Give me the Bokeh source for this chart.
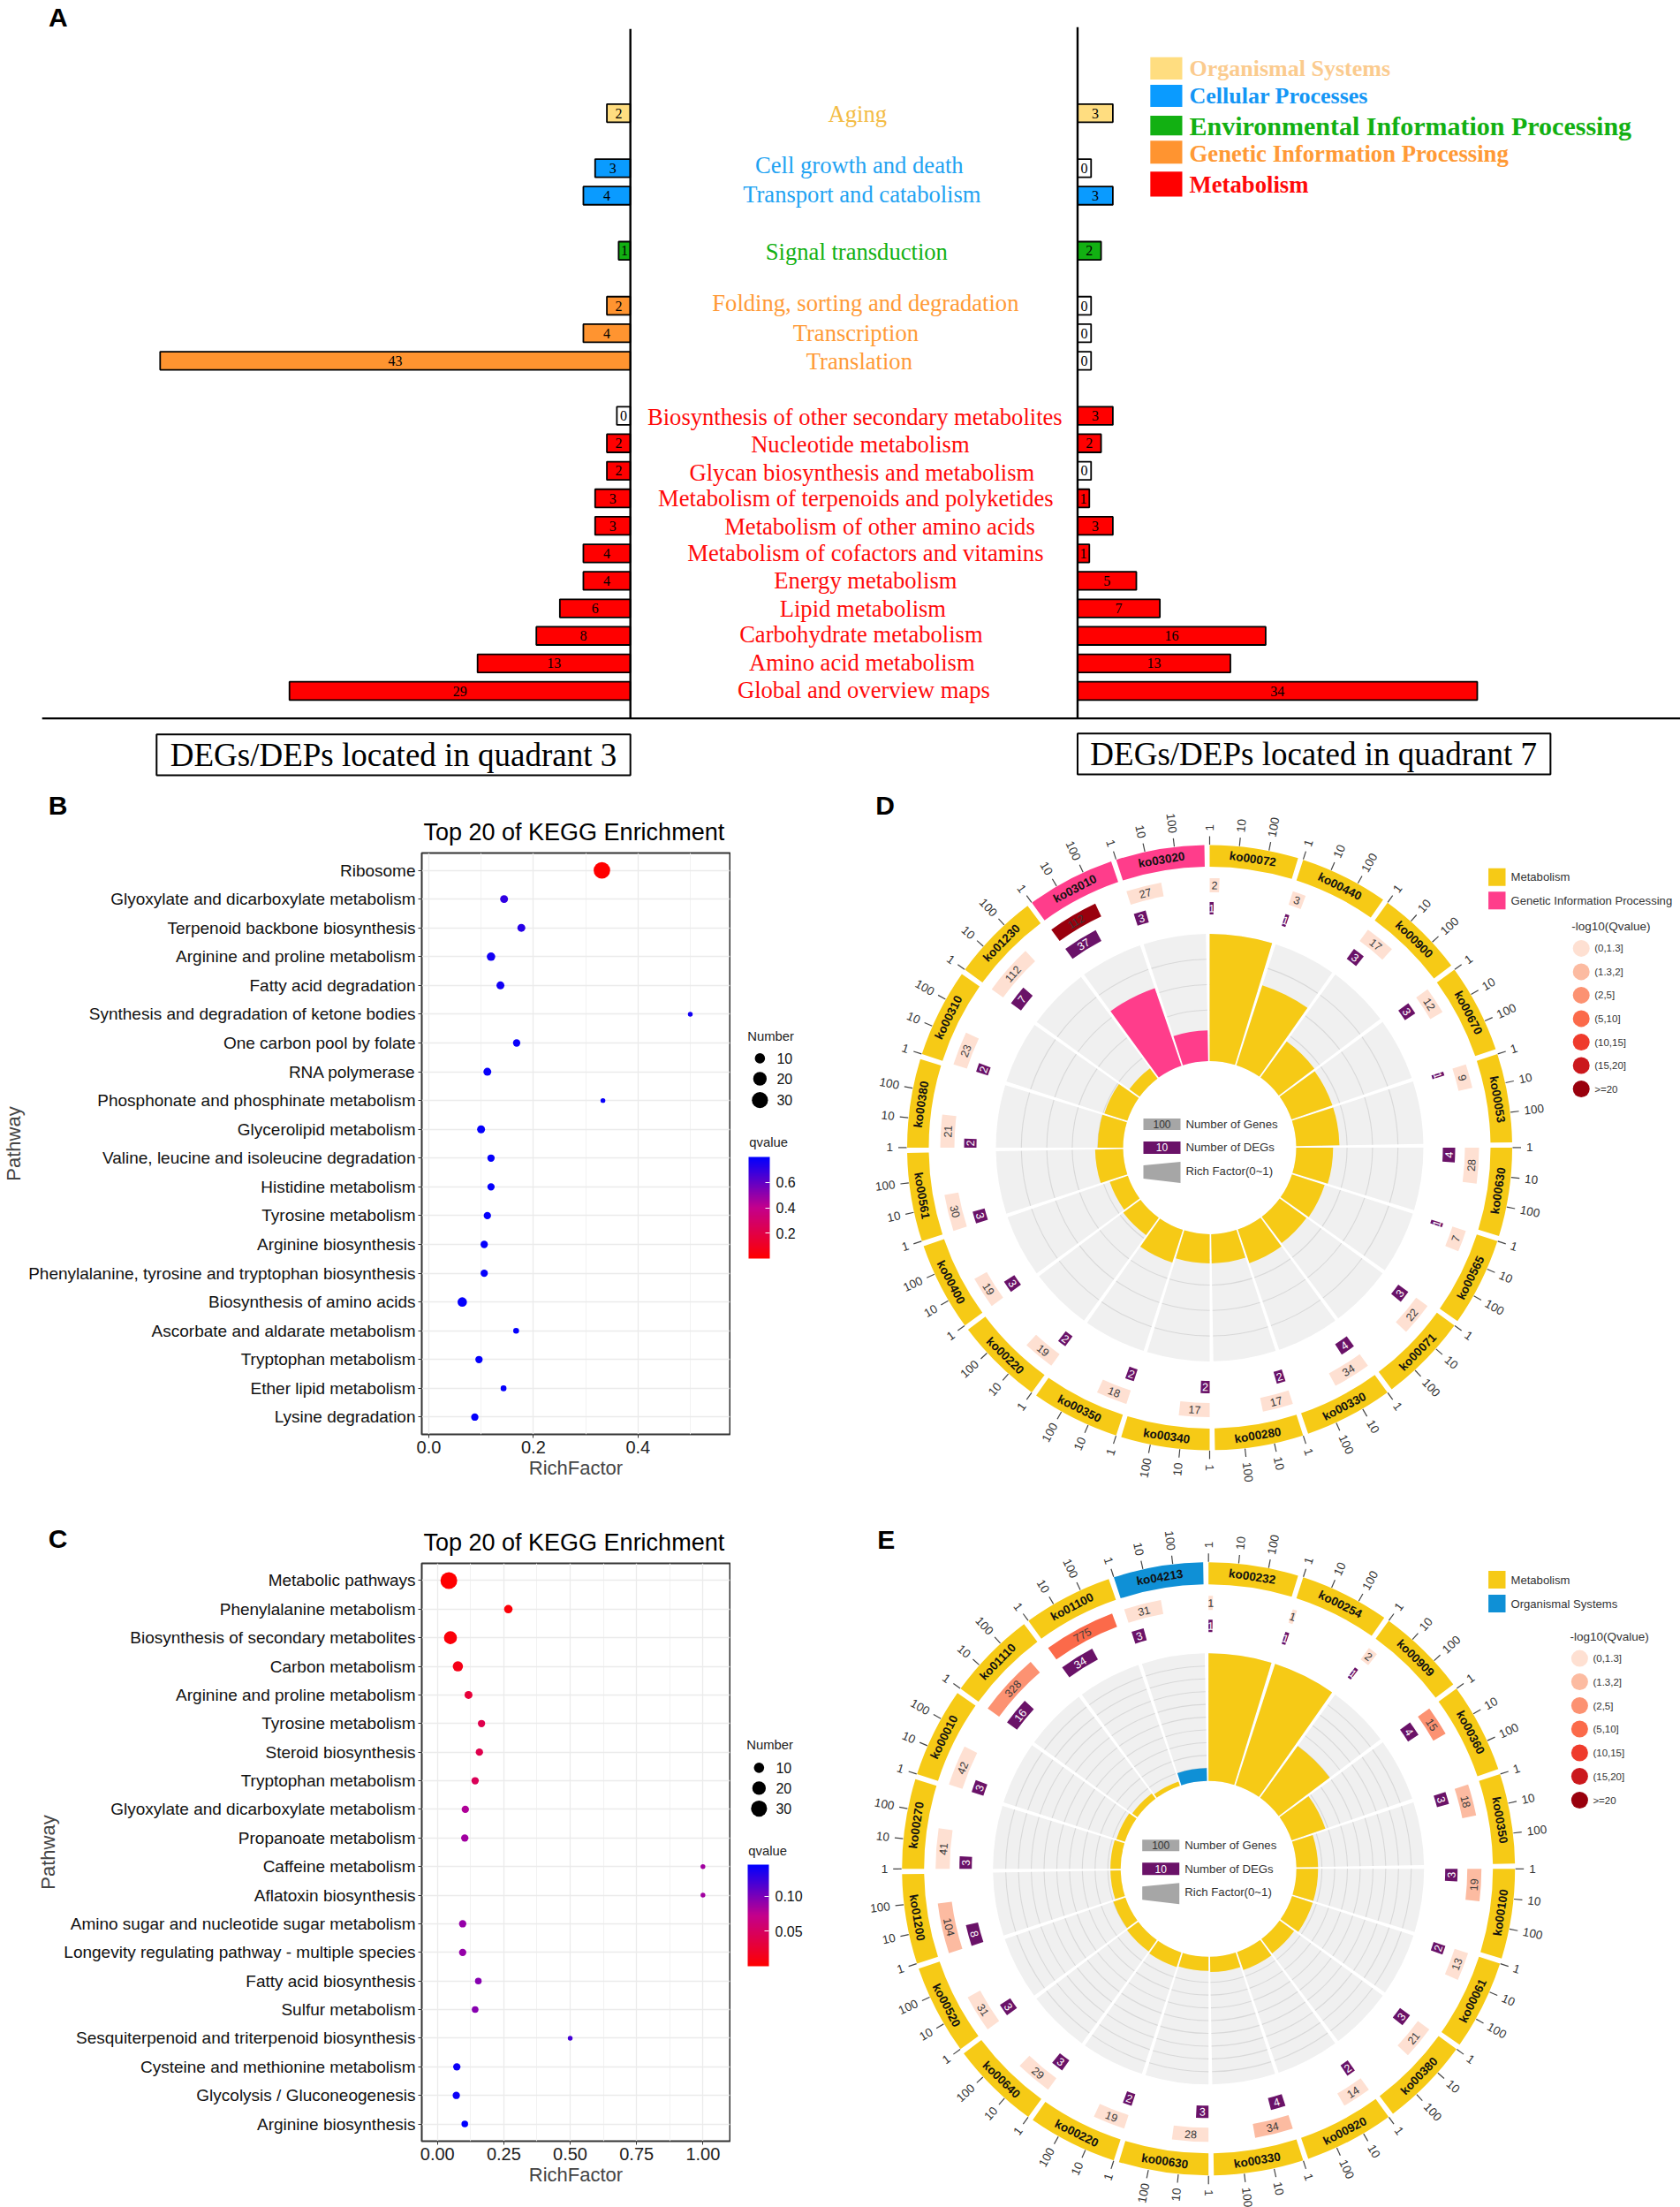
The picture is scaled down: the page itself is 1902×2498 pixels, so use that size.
import numpy as np
from bokeh.plotting import figure
from bokeh.layouts import column, row
from bokeh.models import (ColumnDataSource, Range1d, FactorRange, FixedTicker,
                          LinearColorMapper, ColorBar)
from bokeh.core.properties import value
from bokeh.transform import transform
from bokeh.embed import file_html
from bokeh.resources import INLINE

# ---------------- Panel A data ----------------
groups_a = ["Organismal Systems", "Cellular Processes", "Environmental Information Processing",
            "Genetic Information Processing", "Metabolism"]
cats_a = [["Aging"],
          ["Cell growth and death", "Transport and catabolism"],
          ["Signal transduction"],
          ["Folding, sorting and degradation", "Transcription", "Translation"],
          ["Biosynthesis of other secondary metabolites", "Nucleotide metabolism",
           "Glycan biosynthesis and metabolism", "Metabolism of terpenoids and polyketides",
           "Metabolism of other amino acids", "Metabolism of cofactors and vitamins",
           "Energy metabolism", "Lipid metabolism", "Carbohydrate metabolism",
           "Amino acid metabolism", "Global and overview maps"]]
q3_labels = [2, 3, 4, 1, 2, 4, 43, 0, 2, 2, 3, 3, 4, 4, 6, 8, 13, 29]
q3_bars = [2, 3, 4, 1, 2, 4, 40, 0, 2, 2, 3, 3, 4, 4, 6, 8, 13, 29]
q7_labels = [3, 0, 3, 2, 0, 0, 0, 3, 2, 0, 1, 3, 1, 5, 7, 16, 13, 34]
q7_bars = [3, 0, 3, 2, 0, 0, 0, 3, 2, 0, 1, 3, 1, 5, 7, 16, 13, 34]
bar_cols = ["#FFDD80", "#0A9BFF", "#12B012", "#FF9430", "#FF0000"]
txt_cols = ["#F3BC45", "#1FA3F2", "#12B012", "#FF9A36", "#FF0A0A"]
legend_txt = ["#FBCB8E", "#1496F5", "#12B012", "#FF9A36", "#FF0A0A"]

# ---------------- Panel B data ----------------
path_b = ["Ribosome", "Glyoxylate and dicarboxylate metabolism", "Terpenoid backbone biosynthesis",
          "Arginine and proline metabolism", "Fatty acid degradation",
          "Synthesis and degradation of ketone bodies", "One carbon pool by folate", "RNA polymerase",
          "Phosphonate and phosphinate metabolism", "Glycerolipid metabolism",
          "Valine, leucine and isoleucine degradation", "Histidine metabolism", "Tyrosine metabolism",
          "Arginine biosynthesis", "Phenylalanine, tyrosine and tryptophan biosynthesis",
          "Biosynthesis of amino acids", "Ascorbate and aldarate metabolism", "Tryptophan metabolism",
          "Ether lipid metabolism", "Lysine degradation"]
rich_b = [.331, .144, .177, .119, .137, .500, .168, .112, .333, .100, .119, .119, .112, .106, .106, .064, .167, .096, .143, .088]
num_b = [32, 5, 5, 6, 5, 1, 4, 5, 1, 5, 4, 4, 4, 4, 4, 8, 2, 4, 2, 4]
q_b = [.002, .70, .72, .76, .76, .76, .78, .78, .78, .79, .79, .79, .79, .79, .79, .79, .79, .79, .79, .79]

# ---------------- Panel C data ----------------
path_c = ["Metabolic pathways", "Phenylalanine metabolism", "Biosynthesis of secondary metabolites",
          "Carbon metabolism", "Arginine and proline metabolism", "Tyrosine metabolism",
          "Steroid biosynthesis", "Tryptophan metabolism", "Glyoxylate and dicarboxylate metabolism",
          "Propanoate metabolism", "Caffeine metabolism", "Aflatoxin biosynthesis",
          "Amino sugar and nucleotide sugar metabolism", "Longevity regulating pathway - multiple species",
          "Fatty acid biosynthesis", "Sulfur metabolism", "Sesquiterpenoid and triterpenoid biosynthesis",
          "Cysteine and methionine metabolism", "Glycolysis / Gluconeogenesis", "Arginine biosynthesis"]
rich_c = [.043, .267, .049, .077, .117, .166, .158, .142, .105, .103, 1.0, 1.0, .095, .095, .154, .142, .50, .073, .071, .103]
num_c = [33, 6, 18, 10, 5, 4, 4, 4, 4, 4, 1, 1, 4, 4, 3, 3, 1, 4, 4, 3]
q_c = [.001, .004, .005, .012, .03, .04, .04, .045, .08, .085, .085, .085, .09, .09, .095, .095, .12, .14, .14, .145]

# ---------------- Panels D and E data ----------------
ko_d = ["ko00072", "ko00440", "ko00900", "ko00670", "ko00053", "ko00630", "ko00565", "ko00071", "ko00330", "ko00280",
        "ko00340", "ko00350", "ko00220", "ko00400", "ko00561", "ko00380", "ko00310", "ko01230", "ko03010", "ko03020"]
genes_d = [2, 3, 17, 12, 9, 28, 7, 22, 34, 17, 17, 18, 19, 19, 30, 21, 23, 112, 112, 27]
degs_d = [1, 1, 3, 3, 1, 4, 1, 3, 4, 2, 2, 2, 2, 3, 3, 2, 2, 7, 37, 3]
rich_d = [1.0, .66, .35, .34, .34, .29, .27, .26, .28, .23, .23, .27, .17, .15, .22, .20, .19, .10, .645, .24]
qclass_d = [0]*18 + [6, 0]
cat_d = [0]*18 + [1, 1]
catnames_d = ["Metabolism", "Genetic Information Processing"]
catcols_d = ["#F6CA16", "#FF3D8B"]

ko_e = ["ko00232", "ko00254", "ko00909", "ko00360", "ko00350", "ko00100", "ko00061", "ko00380", "ko00920", "ko00330",
        "ko00630", "ko00220", "ko00640", "ko00520", "ko01200", "ko00270", "ko00010", "ko01110", "ko01100", "ko04213"]
genes_e = [1, 1, 2, 15, 18, 19, 13, 21, 14, 34, 28, 19, 29, 31, 104, 41, 42, 328, 775, 31]
degs_e = [1, 1, 1, 4, 3, 3, 2, 3, 2, 4, 3, 2, 3, 3, 8, 3, 3, 16, 34, 3]
rich_e = [1.0, 1.0, .5, .28, .17, .17, .17, .14, .15, .12, .11, .12, .11, .10, .08, .08, .07, .05, .035, .10]
qclass_e = [0, 0, 0, 2, 1, 1, 0, 0, 0, 1, 0, 0, 0, 0, 1, 0, 0, 2, 3, 0]
cat_e = [0]*19 + [1]
catnames_e = ["Metabolism", "Organismal Systems"]
catcols_e = ["#F6CA16", "#0F90D6"]

q_classes = ["(0,1.3]", "(1.3,2]", "(2,5]", "(5,10]", "(10,15]", "(15,20]", ">=20"]
q_reds = ["#FEE0D2", "#FCBBA1", "#FC9272", "#FB6A4A", "#EF3B2C", "#CB181D", "#99000D"]
axis_ticks = [1, 10, 100]

# ---------------- helpers ----------------
SANS = "Liberation Sans"
SERIF = "Liberation Serif"
SC = 1.0045


def txt(p, x, y, t, size, font=SANS, color="black", align="left", base="middle", style="normal", angle=0.0, **kw):
    p.text(x=x if isinstance(x, (list, np.ndarray)) else [x],
           y=y if isinstance(y, (list, np.ndarray)) else [y],
           text=t if isinstance(t, list) else [t],
           text_font=value(font), text_font_size=f"{size}px", text_color=color,
           text_align=align, text_baseline=base, text_font_style=style,
           angle=angle, angle_units="rad", **kw)


def blank(width, height, xr, yr):
    p = figure(width=width, height=height, x_range=xr, y_range=yr, output_backend="svg",
               toolbar_location=None, min_border=0, outline_line_color=None, frame_align=False)
    p.axis.visible = False
    p.grid.visible = False
    return p


# ---------------- Panel A ----------------
X_A0, X_A1, Y_A0, Y_A1 = 0, 1902 / SC, 880 / SC, 0
pa = blank(1902, 880, Range1d(X_A0, X_A1), Range1d(Y_A0, Y_A1))
UNIT = 13.25
X0L, X0R = 710, 1214
Y0, STEP = 778, 31
pa.extra_x_ranges = {"q3": Range1d((X0L - X_A0) / UNIT, (X0L - X_A1) / UNIT),
                     "q7": Range1d((X_A0 - X0R) / UNIT, (X_A1 - X0R) / UNIT)}
pa.extra_y_ranges = {"cat": Range1d((Y0 - Y_A0) / STEP, (Y0 - Y_A1) / STEP)}

names, ypos, gidx = [], [], []
idx = 21
for g, cs in enumerate(cats_a):
    for c in cs:
        names.append(c)
        ypos.append(idx)
        gidx.append(g)
        idx -= 1
    idx -= 1

for bars, labels, xn in ((q3_bars, q3_labels, "q3"), (q7_bars, q7_labels, "q7")):
    b = np.array(bars, float)
    disp = np.where(b == 0, 1.15, b)
    cols = ["white" if v == 0 else bar_cols[g] for v, g in zip(bars, gidx)]
    src = ColumnDataSource(dict(y=ypos, r=disp, c=cols, m=disp / 2, t=[str(v) for v in labels]))
    pa.hbar(y="y", left=0, right="r", height=.66, fill_color="c", line_color="black", line_width=1.8,
            source=src, x_range_name=xn, y_range_name="cat")
    pa.text(x="m", y="y", text="t", source=src, x_range_name=xn, y_range_name="cat",
            text_font=value(SERIF), text_font_size="16px", text_align="center", text_baseline="middle",
            text_color="black")

# middle labels (layout positions in page pixels)
lab_cx = [966, 968, 971, 965, 975, 964, 968, 963, 969, 971, 964, 991, 975, 975, 972, 970, 971, 973]
lab_cy = [128, 186, 219, 283, 341, 375, 407, 469, 500, 532, 561, 593, 623, 654, 685, 714, 746, 777]
txt(pa, lab_cx, lab_cy, names, 26.6, font=SERIF, align="center", color=[txt_cols[g] for g in gidx])

# axes lines and boxes
pa.segment(x0=[X0L, X0R, 47], y0=[32, 30, 809], x1=[X0L, X0R, X_A1], y1=[809, 809, 809],
           line_color="black", line_width=2.4)
pa.quad(left=[176, 1214], right=[710, 1747], top=[827, 826], bottom=[873, 872],
        fill_color="white", line_color="black", line_width=2)
txt(pa, [443, 1480], [850, 849],
    ["DEGs/DEPs located in quadrant 3", "DEGs/DEPs located in quadrant 7"], 37, font=SERIF, align="center")

# legend
leg_top = [64, 95, 130, 158, 193]
leg_bot = [89, 120, 152, 184, 221]
leg_y = [77, 108, 141, 173, 208]
leg_sz = [26, 26, 30, 26.7, 26.7]
pa.quad(left=1296, right=1332, top=leg_top, bottom=leg_bot, fill_color=bar_cols, line_color=None)
for n, yy, s, c in zip(groups_a, leg_y, leg_sz, legend_txt):
    txt(pa, 1340, yy, n, s, font=SERIF, color=c, style="bold")
txt(pa, 65, 19, "A", 30, style="bold", align="center")

# ---------------- Panels B, C ----------------
stops = [(255, 0, 0), (196, 0, 140), (0, 0, 255)]
palette = []
for i in range(256):
    t = i / 255 * 2
    a, b = stops[0], stops[1]
    if t > 1:
        a, b, t = stops[1], stops[2], t - 1
    palette.append("#%02x%02x%02x" % tuple(int(round(a[k] + (b[k] - a[k]) * t)) for k in range(3)))


def dia(n):
    return 2.6 + 2.85 * np.sqrt(np.array(n, float))


def dot_panel(paths, rich, num, q, qhigh, xr, ticks, tick_fmt, minor, top, bottom, hgt, letter, letter_y,
              title_y, page_top, pw_standoff):
    mapper = LinearColorMapper(palette=palette, low=0, high=qhigh)
    strip_h = top - 3
    strip = blank(827, strip_h, Range1d(0, 827), Range1d(page_top + strip_h, page_top))
    txt(strip, 65, letter_y, letter, 30, style="bold", align="center")
    txt(strip, 479, title_y, "Top 20 of KEGG Enrichment", 27)
    p = figure(width=827, height=hgt - strip_h, x_range=Range1d(*xr),
               y_range=FactorRange(factors=paths[::-1], range_padding=0.1, range_padding_units="absolute"),
               output_backend="svg", toolbar_location=None, min_border_left=477, min_border_right=1,
               min_border_top=3, min_border_bottom=bottom, frame_align=False)
    p.outline_line_color = "#333333"
    p.outline_line_width = 2
    src = ColumnDataSource(dict(x=rich, y=paths, s=dia(num), q=q, n=num))
    p.scatter(x="x", y="y", size="s", source=src, fill_color=transform("q", mapper),
              line_color=transform("q", mapper), line_width=0)
    p.xaxis.ticker = FixedTicker(ticks=ticks, minor_ticks=minor)
    p.xaxis.major_label_overrides = dict(zip(ticks, tick_fmt))
    p.xaxis.major_label_text_font = SANS
    p.xaxis.major_label_text_font_size = "20px"
    p.xaxis.major_label_text_color = "#222222"
    p.xaxis.major_label_standoff = 3
    p.xaxis.axis_label = "RichFactor"
    p.xaxis.axis_label_text_font = SANS
    p.xaxis.axis_label_text_font_size = "22px"
    p.xaxis.axis_label_text_font_style = "normal"
    p.xaxis.axis_label_standoff = 1
    p.yaxis.major_label_text_font = SANS
    p.yaxis.major_label_text_font_size = "19px"
    p.yaxis.major_label_text_color = "#111111"
    p.yaxis.major_label_standoff = 3
    p.yaxis.axis_label = "Pathway"
    p.yaxis.axis_label_text_font = SANS
    p.yaxis.axis_label_text_font_size = "22px"
    p.yaxis.axis_label_text_font_style = "normal"
    p.yaxis.axis_label_standoff = pw_standoff
    for ax in (p.xaxis, p.yaxis):
        ax.axis_line_color = None
        ax.major_tick_line_color = "#333333"
        ax.major_tick_out = 4
        ax.major_tick_in = 0
        ax.minor_tick_line_color = None
    p.xgrid.grid_line_color = "#EBEBEB"
    p.xgrid.minor_grid_line_color = "#F2F2F2"
    p.xgrid.grid_line_width = 1.3
    p.ygrid.grid_line_color = "#EBEBEB"
    p.ygrid.grid_line_width = 1.3
    return column(strip, p, spacing=0), mapper


def dot_legend(height, page_top, mapper, ys, ticks, tick_text, title_y, bar_top, bar_bot, bar_x, num_y):
    fig_x0 = 827
    p = blank(123, height, Range1d(fig_x0 / SC, 950 / SC), Range1d(page_top + height / SC, page_top))
    x_c = bar_x + 12
    txt(p, bar_x - 2, num_y, "Number", 14.8, color="#222222")
    p.scatter(x=[x_c] * 3, y=ys, size=dia([10, 20, 30]), fill_color="black", line_color=None)
    txt(p, [x_c + 19] * 3, ys, ["10", "20", "30"], 16, color="#111111")
    txt(p, bar_x, title_y, "qvalue", 14.8, color="#222222")
    bh = (bar_bot - bar_top) * SC
    loc_y = height - (bar_bot - page_top) * SC
    cb = ColorBar(color_mapper=mapper, ticker=FixedTicker(ticks=ticks),
                  major_label_overrides=dict(zip(ticks, tick_text)),
                  location=(int(bar_x * SC - fig_x0), int(loc_y)), width=24, height=int(bh),
                  padding=0, margin=0, border_line_color=None, background_fill_color=None,
                  major_tick_line_color="white", major_tick_in=5, major_tick_out=0, minor_tick_line_color=None,
                  label_standoff=7, major_label_text_font=SANS, major_label_text_font_size="16px",
                  major_label_text_color="#111111", bar_line_color=None)
    p.add_layout(cb, "center")
    return p


pb, mb = dot_panel(path_b, rich_b, num_b, q_b, 0.8, (-0.0134, 0.576), [0, .2, .4], ["0.0", "0.2", "0.4"],
                   [.1, .3, .5], 85, 77, 820, "B", 910.6, 941, 880, 1)
lb = dot_legend(820, 880, mb, [1196, 1219, 1243], [.2, .4, .6], ["0.2", "0.4", "0.6"], 1291, 1306, 1421, 844, 1171)
pc, mc = dot_panel(path_c, rich_c, num_c, q_c, 0.145, (-0.059, 1.102), [0, .25, .5, .75, 1.0],
                   ["0.00", "0.25", "0.50", "0.75", "1.00"], [.125, .375, .625, .875], 69, 75, 798, "C",
                   1740.7, 1745, 1700, 2)
lc = dot_legend(798, 1700, mc, [1999, 2022, 2045], [.05, .10], ["0.05", "0.10"], 2093, 2107, 2222, 843, 1973)


# ---------------- Panels D, E ----------------
DEG_PER_DECADE_BAR = 5.3
DEG_PER_DECADE_AXIS = 5.65
SECTOR = 18.0
SPAN = 17.0


def flip_angle(c):
    c = np.asarray(c, float) % 360
    a = -c.copy()
    a[(c > 90) & (c < 270)] += 180
    return np.radians(a)


def circle_panel(ko, genes, degs, rich, qcl, cat, catnames, catcols, cx, cy, height, page_top,
                 R_out, R_in, r_gene, r_deg, R_grey, R_hole, n_rings, letter_x, letter, letter_y, leg_y, log_y, log_x, circ_ys):
    fx0, fx1 = 950, 1902
    xr = Range1d(fx0 - cx, fx1 - cx)
    yr = Range1d(cy - (page_top + height), cy - page_top)
    p = blank(952, height, xr, yr)
    N = len(ko)
    c0 = np.arange(N) * SECTOR
    ph_end = np.radians(90 - c0)
    ph_start = np.radians(90 - c0 - SPAN)
    ccol = [catcols[k] for k in cat]
    # grey tracks
    p.annular_wedge(x=0, y=0, inner_radius=R_hole, outer_radius=R_grey, start_angle=ph_start, end_angle=ph_end,
                    fill_color="#F0F0F0", line_color=None)
    for k in range(1, n_rings):
        rr = R_hole + (R_grey - R_hole) * k / n_rings
        p.arc(x=[0] * N, y=[0] * N, radius=rr, start_angle=ph_start, end_angle=ph_end, line_color="#D8D8D8",
              line_width=1.1)
    # rich factor
    p.annular_wedge(x=0, y=0, inner_radius=R_hole, outer_radius=R_hole + (R_grey - R_hole) * np.array(rich),
                    start_angle=ph_start, end_angle=ph_end, fill_color=ccol, line_color=None)
    # outer ring
    p.annular_wedge(x=0, y=0, inner_radius=R_in, outer_radius=R_out, start_angle=ph_start, end_angle=ph_end,
                    fill_color=ccol, line_color=None)
    cm = c0 + SPAN / 2
    Rm = (R_in + R_out) / 2
    txt(p, Rm * np.sin(np.radians(cm)), Rm * np.cos(np.radians(cm)), list(ko), 13.5, align="center", style="bold",
        color="#111111", angle=flip_angle(cm))
    # axis ticks
    tx0, ty0, tx1, ty1, lx, ly, lt, la, lal = [], [], [], [], [], [], [], [], []
    for c in c0:
        for t in axis_ticks:
            a = c + DEG_PER_DECADE_AXIS * np.log10(t)
            s, co = np.sin(np.radians(a)), np.cos(np.radians(a))
            tx0.append((R_out + .5) * s); ty0.append((R_out + .5) * co)
            tx1.append((R_out + 10) * s); ty1.append((R_out + 10) * co)
            lx.append((R_out + 16) * s); ly.append((R_out + 16) * co)
            lt.append(str(t))
            ph = 90 - a
            right = s >= -1e-6
            la.append(np.radians(ph if right else ph + 180))
            lal.append("left" if right else "right")
    p.segment(x0=tx0, y0=ty0, x1=tx1, y1=ty1, line_color="#444444", line_width=1.2)
    src = ColumnDataSource(dict(x=lx, y=ly, t=lt, a=la, al=lal))
    p.text(x="x", y="y", text="t", angle="a", text_align="al", text_baseline="middle", source=src,
           text_font=value(SANS), text_font_size="13.5px", text_color="#333333")
    # genes and DEGs bars
    for vals, rc, hw, cols, tc in ((genes, r_gene, 8, [q_reds[k] for k in qcl], "#3a3a3a"),
                                   (degs, r_deg, 7, ["#6A1268"] * N, "white")):
        ln = DEG_PER_DECADE_BAR * np.log10(np.array(vals, float) + 0.5)
        p.annular_wedge(x=0, y=0, inner_radius=rc - hw, outer_radius=rc + hw, start_angle=np.radians(90 - c0 - ln),
                        end_angle=ph_end, fill_color=cols, line_color=None)
        mid = c0 + ln / 2
        txt(p, rc * np.sin(np.radians(mid)), rc * np.cos(np.radians(mid)), [str(v) for v in vals], 12.5,
            align="center", color=tc, angle=flip_angle(mid))
    # centre legend
    p.quad(left=-75, right=-33, top=33, bottom=20, fill_color="#A6A6A6", line_color=None)
    p.quad(left=-75, right=-33, top=7, bottom=-7, fill_color="#6A1268", line_color=None)
    p.patch(x=[-75, -33, -33, -75], y=[-20, -16, -40, -35], fill_color="#A6A6A6", line_color=None)
    txt(p, -54, 26.5, "100", 12, align="center", color="#333333")
    txt(p, -54, 0, "10", 12, align="center", color="white")
    txt(p, [-27] * 3, [26.5, 0, -26.5], ["Number of Genes", "Number of DEGs", "Rich Factor(0~1)"], 13.2, color="#333333")
    # category legend
    for yy, n, col in zip(leg_y, catnames, catcols):
        p.quad(left=1684.6 - cx, right=1704 - cx, top=cy - yy + 10, bottom=cy - yy - 10, fill_color=col, line_color=None)
        txt(p, 1710 - cx, cy - yy, n, 13.1, color="#333333")
    txt(p, log_x - cx, cy - log_y, "-log10(Qvalue)", 13.5, color="#333333")
    ys = cy - np.array(circ_ys, float)
    p.scatter(x=[log_x + 11 - cx] * 7, y=ys, size=19, fill_color=q_reds, line_color=None)
    txt(p, [log_x + 26 - cx] * 7, ys, q_classes, 11.5, color="#333333")
    txt(p, letter_x - cx, cy - letter_y, letter, 30, align="center", style="bold")
    return p


pd_ = circle_panel(ko_d, genes_d, degs_d, rich_d, qclass_d, cat_d, catnames_d, catcols_d, 1369, 1298.4, 820, 880,
                   342.5, 318, 297, 271, 242, 98, 5, 1001.6, "D", 910.6, [992.2, 1018.8], 1048.4, 1778.7,
                   [1072.9, 1099.4, 1125.9, 1152.4, 1179, 1205.5, 1232])
pe_ = circle_panel(ko_e, genes_e, degs_e, rich_e, qclass_e, cat_e, catnames_e, catcols_e, 1367.7, 2114.8, 798, 1700,
                   347, 322, 301, 275, 244, 99.5, 10, 1002.8, "E", 1741.7, [1787.5, 1814.5], 1851.7, 1776.9,
                   [1876.6, 1903, 1930, 1956.5, 1983.5, 2010, 2037])

layout = column(pa, row(pb, lb, pd_, spacing=0), row(pc, lc, pe_, spacing=0), spacing=0)
open("out.html", "w").write(file_html(layout, INLINE))
